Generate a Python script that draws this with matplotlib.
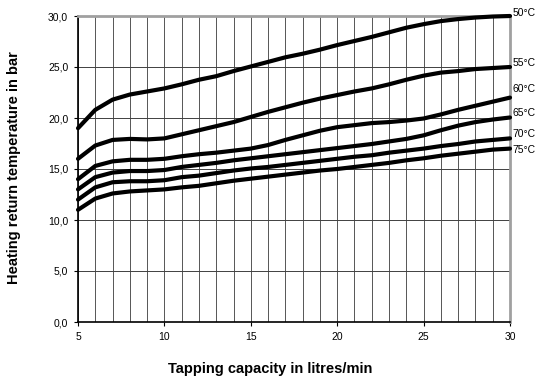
import matplotlib
matplotlib.use("Agg")
import matplotlib.pyplot as plt
from matplotlib.ticker import FuncFormatter, MultipleLocator

plt.rcParams['font.family'] = ['Liberation Sans', 'DejaVu Sans']

capacity = list(range(5, 31))
t50 = [19.0, 20.8, 21.8, 22.3, 22.6, 22.9, 23.3, 23.75, 24.1, 24.6, 25.05, 25.5, 25.95,
       26.3, 26.7, 27.15, 27.55, 27.95, 28.4, 28.85, 29.2, 29.5, 29.7, 29.85, 29.95, 30.0]
t55 = [16.0, 17.3, 17.85, 17.95, 17.9, 18.0, 18.4, 18.8, 19.2, 19.6, 20.1, 20.6, 21.05,
       21.5, 21.9, 22.25, 22.6, 22.9, 23.3, 23.75, 24.15, 24.45, 24.6, 24.8, 24.9, 25.0]
t60 = [14.0, 15.3, 15.75, 15.9, 15.9, 16.0, 16.25, 16.45, 16.6, 16.8, 17.0, 17.35, 17.85,
       18.3, 18.75, 19.1, 19.3, 19.5, 19.6, 19.75, 19.95, 20.35, 20.8, 21.2, 21.6, 22.0]
t65 = [13.0, 14.2, 14.65, 14.8, 14.8, 14.9, 15.2, 15.4, 15.6, 15.85, 16.05, 16.25, 16.45,
       16.65, 16.85, 17.05, 17.25, 17.45, 17.7, 17.95, 18.3, 18.8, 19.25, 19.6, 19.85, 20.05]
t70 = [12.0, 13.2, 13.7, 13.8, 13.8, 13.9, 14.2, 14.35, 14.6, 14.85, 15.05, 15.2, 15.4,
       15.6, 15.8, 16.0, 16.2, 16.35, 16.6, 16.8, 17.0, 17.25, 17.45, 17.7, 17.85, 18.0]
t75 = [11.0, 12.1, 12.6, 12.8, 12.9, 13.0, 13.2, 13.35, 13.6, 13.85, 14.05, 14.25, 14.45,
       14.65, 14.85, 15.0, 15.2, 15.4, 15.6, 15.85, 16.05, 16.3, 16.5, 16.7, 16.9, 17.0]
series = [t50, t55, t60, t65, t70, t75]
labels = ["50°C", "55°C", "60°C", "65°C", "70°C", "75°C"]
label_y = [30.3, 25.4, 22.8, 20.5, 18.4, 16.9]

fig = plt.figure(figsize=(5.39, 3.83), dpi=100)
ax = fig.add_axes([78/539, 1-322/383, (510-78)/539, (322-16)/383])

ax.set_xlim(5, 30)
ax.set_ylim(0, 30)
for xv in range(5, 31):
    ax.axvline(xv, color='#555555', lw=0.7, zorder=1)
for yv in range(5, 30, 5):
    ax.axhline(yv, color='#404040', lw=0.7, zorder=1)

for s in series:
    ax.plot(capacity, s, color='black', lw=3.0, solid_joinstyle='round',
            solid_capstyle='round', zorder=3, clip_on=False)

for lab, ly in zip(labels, label_y):
    ax.text(30.15, ly, lab, fontsize=7.5, va='center', ha='left')

ax.xaxis.set_major_locator(MultipleLocator(5))
ax.yaxis.set_major_locator(MultipleLocator(5))
ax.yaxis.set_major_formatter(FuncFormatter(lambda v, p: f"{v:.1f}".replace('.', ',')))
ax.tick_params(axis='both', labelsize=7.5, length=3, width=0.8, direction='out', pad=4)

ax.spines['left'].set_color('black')
ax.spines['bottom'].set_color('black')
ax.spines['left'].set_linewidth(1.2)
ax.spines['bottom'].set_linewidth(1.2)
ax.spines['top'].set_color('#a0a0a0')
ax.spines['right'].set_color('#a0a0a0')
ax.spines['top'].set_linewidth(2)
ax.spines['right'].set_linewidth(2)

fig.text(14/539, 1-168/383, "Heating return temperature in bar", rotation=90,
         fontsize=10.5, fontweight='bold', ha='center', va='center')
fig.text(270/539, 1-369/383, "Tapping capacity in litres/min",
         fontsize=10.5, fontweight='bold', ha='center', va='center')

fig.savefig("out.png", dpi=100)
